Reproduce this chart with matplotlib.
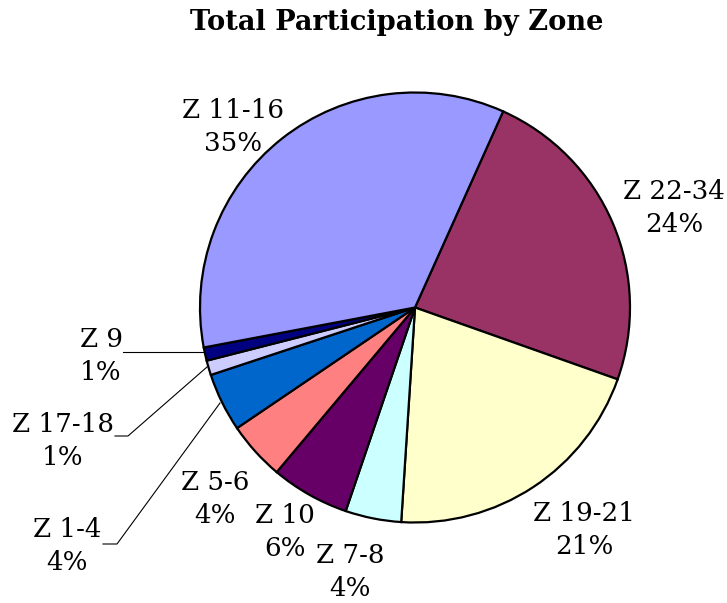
import matplotlib
matplotlib.use("Agg")
import matplotlib.pyplot as plt

# ---- data ----
zones = ["Z 22-34", "Z 19-21", "Z 7-8", "Z 10", "Z 5-6", "Z 1-4", "Z 17-18", "Z 9", "Z 11-16"]
shares = [23.7, 20.6, 4.2, 5.9, 4.4, 4.4, 1.1, 1.0, 34.7]
colors = ["#993366", "#FFFFCC", "#CCFFFF", "#660066", "#FF8080",
          "#0066CC", "#CCCCFF", "#000080", "#9999FF"]
title = "Total Participation by Zone"

W, H = 727, 603
FONT = "DejaVu Serif"

fig = plt.figure(figsize=(W / 100, H / 100), dpi=100)
ax = fig.add_axes([0, 0, 1, 1])


def px(x, y):
    return (x, H - y)


cx, cy = px(415, 307.5)
ax.pie(shares, colors=colors, startangle=65.8, counterclock=False,
       center=(cx, cy), radius=215, frame=True,
       wedgeprops=dict(edgecolor="black", linewidth=1.6))
ax.set_xlim(0, W)
ax.set_ylim(0, H)
ax.set_aspect("equal")
ax.axis("off")

# label layout (pixel positions of label centres)
label_pos = [(674, 208), (584, 530), (350, 572), (285, 532), (215, 499),
             (67, 546), (63, 441), (101, 356), (233, 127)]
total = sum(shares)
for name, v, (lx, ly) in zip(zones, shares, label_pos):
    ax.text(*px(lx, ly), f"{name}\n{v / total * 100:.0f}%", ha="center", va="center",
            fontsize=18.8, family=FONT, linespacing=1.4, fontweight="light")

# leader lines
leaders = {
    "Z 9": [(123, 352), (203, 352)],
    "Z 17-18": [(115, 436), (128, 436), (207, 367)],
    "Z 1-4": [(103, 544), (117, 544), (220, 403)],
}
for pts in leaders.values():
    xs = [p[0] for p in pts]
    ys = [H - p[1] for p in pts]
    ax.plot(xs, ys, color="black", linewidth=0.8)

fig.text(397 / W, 1 - 22 / H, title, ha="center", va="center",
         fontsize=19.6, fontweight="bold", family=FONT)

fig.savefig("out.png", dpi=100)
